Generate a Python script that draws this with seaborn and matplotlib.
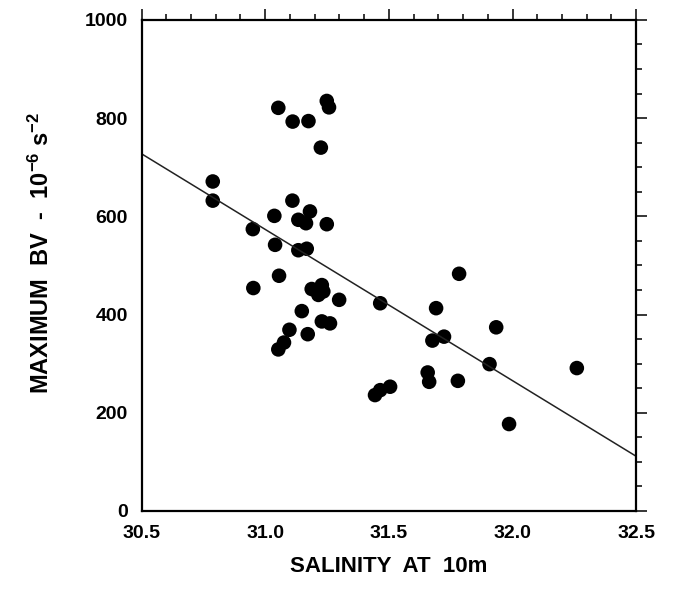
import numpy as np
import pandas as pd
import matplotlib
matplotlib.use('Agg')
import matplotlib.pyplot as plt
import seaborn as sns
from matplotlib.ticker import MultipleLocator, FormatStrFormatter

# salinity at 10 m and maximum Brunt-Vaisala frequency (1e-6 s^-2)
salinity = [30.788, 30.788, 30.950, 30.952, 31.037, 31.040, 31.053, 31.056, 31.053, 31.076,
            31.098, 31.110, 31.111, 31.134, 31.134, 31.148, 31.165, 31.168, 31.172, 31.175,
            31.181, 31.188, 31.215, 31.229, 31.235, 31.225, 31.229, 31.249, 31.258, 31.249,
            31.262, 31.299, 31.465, 31.444, 31.465, 31.505, 31.657, 31.663, 31.676, 31.691,
            31.723, 31.779, 31.784, 31.907, 31.934, 31.986, 32.260]
max_bv = [671, 632, 574, 454, 601, 542, 821, 479, 329, 343,
          369, 632, 793, 593, 531, 407, 586, 534, 360, 794,
          610, 452, 440, 460, 447, 740, 386, 835, 822, 584,
          382, 430, 423, 236, 246, 253, 282, 263, 347, 413,
          355, 265, 483, 299, 374, 177, 291]

df = pd.DataFrame({'salinity': salinity, 'bv': max_bv})

sns.set_style('white')
plt.rcParams['font.family'] = ['Liberation Sans', 'DejaVu Sans']
plt.rcParams['font.weight'] = 'bold'
plt.rcParams['text.color'] = 'black'
plt.rcParams['axes.labelcolor'] = 'black'
plt.rcParams['xtick.color'] = 'black'
plt.rcParams['ytick.color'] = 'black'
plt.rcParams['mathtext.fontset'] = 'custom'
plt.rcParams['mathtext.rm'] = 'Liberation Sans:bold'
plt.rcParams['mathtext.it'] = 'Liberation Sans:bold'
plt.rcParams['mathtext.bf'] = 'Liberation Sans:bold'

fig = plt.figure(figsize=(6.73, 5.99), dpi=100)
ax = fig.add_axes([0.2103, 0.147, 0.735, 0.8197])
ax.set_xlim(30.5, 32.5)
ax.set_ylim(0, 1000)

# least-squares line across the full x range
sns.regplot(data=df, x='salinity', y='bv', scatter=False, ci=None, truncate=False,
            line_kws={'color': '#222222', 'lw': 1.1}, ax=ax)
sns.scatterplot(data=df, x='salinity', y='bv', s=110, color='black', edgecolor='none', ax=ax)

ax.set_xlim(30.5, 32.5)
ax.set_ylim(0, 1000)
ax.xaxis.set_major_locator(MultipleLocator(0.5))
ax.xaxis.set_minor_locator(MultipleLocator(0.1))
ax.yaxis.set_major_locator(MultipleLocator(200))
ax.yaxis.set_minor_locator(MultipleLocator(50))
ax.xaxis.set_major_formatter(FormatStrFormatter('%.1f'))

ax.tick_params(which='both', direction='out', top=True, right=True,
               labeltop=False, labelright=False, color='black', width=1.1)
ax.tick_params(which='major', length=8, labelsize=14, pad=2)
ax.tick_params(which='minor', length=4.5)
for lab in ax.get_xticklabels() + ax.get_yticklabels():
    lab.set_fontweight('bold')

for sp in ax.spines.values():
    sp.set_visible(True)
    sp.set_color('black')
    sp.set_linewidth(1.6)

ax.set_xlabel('SALINITY  AT  10m', fontsize=16, fontweight='bold', labelpad=10)
ax.set_ylabel(r'MAXIMUM  BV  -  10$^{-6}$ s$^{-2}$', fontsize=17, fontweight='bold', labelpad=22)
ax.yaxis.label.set_y(0.525)

fig.savefig('out.png', dpi=100)
